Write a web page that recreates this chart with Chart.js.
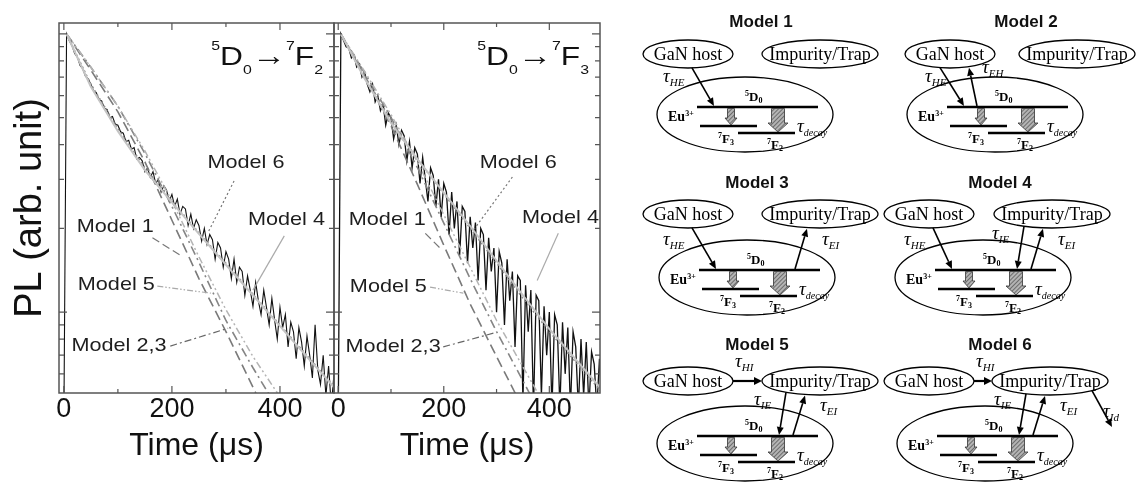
<!DOCTYPE html>
<html>
<head>
<meta charset="utf-8">
<script src="https://cdn.jsdelivr.net/npm/chart.js@4.4.0/dist/chart.umd.min.js"></script>
<style>
  html, body { margin: 0; padding: 0; background: #fff; }
  #wrap { position: relative; width: 1143px; height: 495px; overflow: hidden; }
  #cL { position: absolute; left: 0; top: 0; }
  #cR { position: absolute; left: 300px; top: 0; }
  #diag { position: absolute; left: 0; top: 0; }
</style>
</head>
<body>
<div id="wrap">
  <canvas id="cL" width="340" height="495"></canvas>
  <canvas id="cR" width="310" height="495"></canvas>
  <svg id="diag" width="1143" height="495" xmlns="http://www.w3.org/2000/svg"></svg>
</div>
<script>
// ---------- data ----------
const dataTime = [0,5,10,15,20,25,30,35,40,45,50,55,60,65,70,75,80,85,90,95,100,105,110,115,120,125,130,135,140,145,150,155,160,165,170,175,180,185,190,195,200,205,210,215,220,225,230,235,240,245,250,255,260,265,270,275,280,285,290,295,300,305,310,315,320,325,330,335,340,345,350,355,360,365,370,375,380,385,390,395,400,405,410,415,420,425,430,435,440,445,450,455,460,465,470,475,480,485,490,495,500];

// measured PL, 5D0 -> 7F2
const pl_7F2 = [0.04, 1.00, 0.945, 0.91, 0.85, 0.825, 0.77, 0.75, 0.705, 0.69, 0.66,
  0.625, 0.615, 0.58, 0.575, 0.54, 0.535, 0.50, 0.505, 0.475, 0.47,
  0.445, 0.44, 0.41, 0.415, 0.385, 0.39, 0.355, 0.36, 0.35, 0.32,
  0.33, 0.305, 0.32, 0.29, 0.30, 0.27, 0.285, 0.275, 0.25, 0.265,
  0.24, 0.255, 0.225, 0.24, 0.235, 0.205, 0.225, 0.20, 0.215, 0.205,
  0.18, 0.20, 0.175, 0.19, 0.182, 0.155, 0.178, 0.17, 0.145, 0.165,
  0.155, 0.132, 0.155, 0.128, 0.145, 0.14, 0.115, 0.135, 0.12, 0.105,
  0.128, 0.11, 0.098, 0.12, 0.104, 0.09, 0.112, 0.094, 0.08, 0.104,
  0.088, 0.098, 0.075, 0.092, 0.085, 0.068, 0.088, 0.078, 0.064, 0.082,
  0.07, 0.058, 0.09, 0.062, 0.055, 0.07, 0.05, 0.064, 0.046, 0.06];

// measured PL, 5D0 -> 7F3 (noisier)
const pl_7F3 = [0.04, 1.0, 0.95, 0.90, 0.89, 0.82, 0.84, 0.76, 0.78, 0.70, 0.73,
  0.66, 0.62, 0.66, 0.57, 0.60, 0.53, 0.56, 0.47, 0.52, 0.50,
  0.42, 0.47, 0.40, 0.45, 0.43, 0.35, 0.41, 0.33, 0.39, 0.37,
  0.29, 0.36, 0.30, 0.25, 0.33, 0.31, 0.24, 0.30, 0.22, 0.29,
  0.27, 0.19, 0.27, 0.20, 0.25, 0.16, 0.24, 0.23, 0.15, 0.22,
  0.17, 0.21, 0.13, 0.20, 0.19, 0.12, 0.185, 0.14, 0.17, 0.10,
  0.165, 0.15, 0.09, 0.155, 0.11, 0.14, 0.075, 0.135, 0.13, 0.048,
  0.125, 0.085, 0.12, 0.045, 0.115, 0.11, 0.05, 0.105, 0.07, 0.10,
  0.045, 0.098, 0.09, 0.045, 0.092, 0.06, 0.088, 0.045, 0.085, 0.075,
  0.045, 0.08, 0.05, 0.078, 0.045, 0.072, 0.065, 0.045, 0.068, 0.045];

// model curves
const modelTime = [5,50,100,150,200,250,300,350,400,450,500];
const model4_7F2 = [1,0.646,0.447,0.324,0.248,0.191,0.148,0.115,0.089,0.069,0.0537];
const model6_7F2 = [1,0.661,0.457,0.331,0.251,0.193,0.150,0.116,0.090,0.070,0.0543];
const model4_7F3 = [1,0.692,0.479,0.355,0.269,0.204,0.153,0.115,0.0871,0.0676,0.0525];
const model6_7F3 = [1,0.708,0.490,0.355,0.266,0.200,0.150,0.112,0.0851,0.0661,0.0513];

const m1Time_7F2 = [5,50,100,150,200,250,300,355,400];
const model1_7F2 = [1,0.741,0.525,0.347,0.214,0.132,0.0851,0.0513,0.0339];
const m23Time_7F2 = [5,50,100,150,200,250,300,350,378,400];
const model23_7F2 = [1,0.759,0.550,0.372,0.240,0.151,0.0933,0.0631,0.0513,0.0437];
const m5Time_7F2 = [5,50,100,150,200,250,300,350,395,420];
const model5_7F2 = [1,0.759,0.550,0.380,0.251,0.158,0.102,0.0692,0.0513,0.0427];

const m1Time_7F3 = [5,50,100,150,200,250,300,335,360];
const model1_7F3 = [1,0.708,0.468,0.288,0.174,0.107,0.0692,0.0513,0.0417];
const m23Time_7F3 = [5,50,100,150,200,250,300,362,390];
const model23_7F3 = [1,0.724,0.501,0.331,0.209,0.132,0.0851,0.0513,0.0417];
const m5Time_7F3 = [5,50,100,150,200,250,300,378,400];
const model5_7F3 = [1,0.733,0.513,0.347,0.224,0.145,0.0933,0.0513,0.0437];

// axes
const xLabelTicks = [0, 200, 400];
const xMajorTicks = [0, 200, 400];
const xMinorTicks = [100, 300, 500];
const yMajorTicks = [1, 0.1];
const yMinorTicks = [0.9, 0.8, 0.7, 0.6, 0.5, 0.4, 0.3, 0.2, 0.09, 0.08, 0.07, 0.06];

// diagram content
const modelTitles = ['Model 1', 'Model 2', 'Model 3', 'Model 4', 'Model 5', 'Model 6'];
const modelPaths = [['HE'], ['HE', 'EH'], ['HE', 'EI'], ['HE', 'IE', 'EI'], ['HI', 'IE', 'EI'], ['HI', 'IE', 'EI', 'Id']];

const SANS = '"Liberation Sans", Arial, "DejaVu Sans", sans-serif';
const SERIF = 'Liberation Serif, DejaVu Serif, serif';

Chart.defaults.font.family = SANS;
Chart.defaults.color = '#111';

// ---------- chart panels ----------
function stretchText(ctx, text, x, y, sx) {
  ctx.save();
  ctx.translate(x, y);
  ctx.scale(sx, 1);
  ctx.fillText(text, 0, 0);
  ctx.restore();
}

function drawFormula(ctx, right, base, sub) {
  const parts = [['5', 13, -15], ['D', 26, 0], ['0', 13, 9], ['\u2192', 28, 0], ['7', 13, -15], ['F', 26, 0], [sub, 13, 9]];
  const sx = 1.22;
  const widths = parts.map(([t, f]) => { ctx.font = f + 'px ' + SANS; return ctx.measureText(t).width * sx; });
  let xx = right - widths.reduce((a, b) => a + b, 0);
  ctx.textAlign = 'left';
  ctx.textBaseline = 'alphabetic';
  ctx.fillStyle = '#111';
  parts.forEach(([t, f, dy], i) => {
    ctx.font = f + 'px ' + SANS;
    stretchText(ctx, t, xx, base + dy, sx);
    xx += widths[i];
  });
}

function panelPlugin(p) {
  return {
    id: 'panel' + p.sub,
    afterDatasetsDraw(chart) {
      const { ctx, chartArea: a, scales: { x, y } } = chart;
      ctx.save();

      // model labels with leader lines
      p.notes.forEach(n => {
        ctx.beginPath();
        ctx.setLineDash(n.dash);
        ctx.strokeStyle = n.color;
        ctx.lineWidth = 1.2;
        ctx.moveTo(x.getPixelForValue(n.from[0]), y.getPixelForValue(n.from[1]));
        ctx.lineTo(x.getPixelForValue(n.to[0]), y.getPixelForValue(n.to[1]));
        ctx.stroke();
        ctx.setLineDash([]);
        ctx.fillStyle = '#1e1e1e';
        ctx.font = '19px ' + SANS;
        ctx.textAlign = 'center';
        ctx.textBaseline = 'middle';
        stretchText(ctx, n.text, x.getPixelForValue(n.at[0]), y.getPixelForValue(n.at[1]), 1.14);
      });

      // frame + inward ticks
      ctx.strokeStyle = '#555';
      ctx.lineWidth = 1.5;
      ctx.strokeRect(a.left, a.top, a.right - a.left, a.bottom - a.top);
      ctx.lineWidth = 1.2;
      ctx.beginPath();
      const xt = (v, len) => {
        if (v <= x.min || v >= x.max) return;
        const px = x.getPixelForValue(v);
        ctx.moveTo(px, a.bottom); ctx.lineTo(px, a.bottom - len);
        ctx.moveTo(px, a.top); ctx.lineTo(px, a.top + len);
      };
      const yt = (v, len) => {
        const py = y.getPixelForValue(v);
        ctx.moveTo(a.left, py); ctx.lineTo(a.left + len, py);
        ctx.moveTo(a.right, py); ctx.lineTo(a.right - len, py);
      };
      xMajorTicks.forEach(v => xt(v, 7));
      xMinorTicks.forEach(v => xt(v, 4));
      yMajorTicks.forEach(v => yt(v, 8));
      yMinorTicks.forEach(v => yt(v, 5));
      ctx.stroke();

      drawFormula(ctx, a.right - 11, a.top + 42, p.sub);
      ctx.restore();
    }
  };
}

function buildPanel(canvasId, p) {
  const pts = (ts, vs) => ts.map((t, i) => ({ x: t, y: vs[i] }));
  const datasets = [
    { data: pts(modelTime, p.m4), borderColor: '#c4c4c4', borderWidth: 2 },
    { data: pts(modelTime, p.m6), borderColor: '#8c8c8c', borderWidth: 1.4, borderDash: [2, 2.5] },
    { data: pts(p.m5t, p.m5), borderColor: '#b4b4b4', borderWidth: 1.5, borderDash: [7, 3, 2, 3, 2, 3] },
    { data: pts(p.m23t, p.m23), borderColor: '#858585', borderWidth: 1.6, borderDash: [9, 4, 2, 4] },
    { data: pts(p.m1t, p.m1), borderColor: '#7a7a7a', borderWidth: 1.6, borderDash: [10, 5] },
    { data: pts(dataTime, p.pl), borderColor: '#111', borderWidth: p.dataWidth }
  ];

  return new Chart(document.getElementById(canvasId), {
    type: 'line',
    data: { datasets },
    options: {
      responsive: false,
      animation: false,
      events: [],
      layout: { padding: p.padding },
      elements: { point: { radius: 0 }, line: { tension: 0, fill: false } },
      plugins: { legend: { display: false }, tooltip: { enabled: false } },
      scales: {
        x: {
          type: 'linear', min: p.xmin, max: p.xmax,
          afterBuildTicks: s => { s.ticks = xLabelTicks.map(v => ({ value: v })); },
          afterFit: s => { s.height = 102; },
          ticks: { font: { size: 27 }, color: '#111', padding: 0, autoSkip: false, maxRotation: 0 },
          grid: { display: false, drawTicks: false },
          border: { display: false },
          title: { display: true, text: 'Time (\u03bcs)', font: { size: 32 }, color: '#111', padding: { top: 0, bottom: 30 } }
        },
        y: {
          type: 'logarithmic', min: 0.0512, max: 1.095,
          display: p.showY,
          afterBuildTicks: s => { s.ticks = yMajorTicks.map(v => ({ value: v })); },
          afterFit: s => { s.width = p.showY ? 59 : 0; },
          ticks: { display: false },
          grid: { display: false, drawTicks: false },
          border: { display: false },
          title: { display: true, text: 'PL (arb. unit)', font: { size: 38 }, color: '#111', padding: { top: 8, bottom: 0 } }
        }
      }
    },
    plugins: [panelPlugin(p)]
  });
}

const dashM1 = [8, 4], dashM23 = [7, 3, 2, 3], dashM5 = [6, 2, 1.5, 2, 1.5, 2], dashM6 = [2, 2.5];

buildPanel('cL', {
  sub: '2', showY: true, xmin: -9, xmax: 500, padding: { top: 23, right: 6, left: 0, bottom: 0 }, dataWidth: 1.1,
  pl: pl_7F2, m4: model4_7F2, m6: model6_7F2,
  m1t: m1Time_7F2, m1: model1_7F2, m23t: m23Time_7F2, m23: model23_7F2, m5t: m5Time_7F2, m5: model5_7F2,
  notes: [
    { text: 'Model 6', at: [337, 0.343], from: [315, 0.296], to: [266, 0.192], dash: dashM6, color: '#777' },
    { text: 'Model 1', at: [95, 0.202], from: [164, 0.185], to: [220, 0.158], dash: dashM1, color: '#777' },
    { text: 'Model 4', at: [412, 0.214], from: [408, 0.188], to: [350, 0.12], dash: [], color: '#aaa' },
    { text: 'Model 5', at: [97, 0.125], from: [173, 0.124], to: [272, 0.117], dash: dashM5, color: '#aaa' },
    { text: 'Model 2,3', at: [102, 0.076], from: [197, 0.0755], to: [304, 0.0875], dash: dashM23, color: '#666' }
  ]
});

buildPanel('cR', {
  sub: '3', showY: false, xmin: -8, xmax: 496, padding: { top: 23, right: 10, left: 34, bottom: 0 }, dataWidth: 1.3,
  pl: pl_7F3, m4: model4_7F3, m6: model6_7F3,
  m1t: m1Time_7F3, m1: model1_7F3, m23t: m23Time_7F3, m23: model23_7F3, m5t: m5Time_7F3, m5: model5_7F3,
  notes: [
    { text: 'Model 6', at: [341, 0.343], from: [330, 0.306], to: [256, 0.197], dash: dashM6, color: '#777' },
    { text: 'Model 1', at: [93, 0.214], from: [165, 0.192], to: [197, 0.167], dash: dashM1, color: '#777' },
    { text: 'Model 4', at: [421, 0.218], from: [417, 0.192], to: [377, 0.130], dash: [], color: '#aaa' },
    { text: 'Model 5', at: [95, 0.123], from: [174, 0.123], to: [237, 0.117], dash: dashM5, color: '#aaa' },
    { text: 'Model 2,3', at: [104, 0.075], from: [199, 0.075], to: [294, 0.084], dash: dashM23, color: '#666' }
  ]
});

// ---------- energy-transfer diagrams ----------
// per-model offsets from the Model 1 layout
const gX = [0, 262, 0, 241, 0, 241];
const iX = [0, 257, 0, 232, 0, 230];
const eX = [0, 250, 2, 238, 0, 240];
const topY = [0, 0, 160, 160, 327, 327];
const euY = [0, 0, 163, 163, 329, 329];
const titlePos = [[761, 27], [1026, 27], [757, 188], [1000, 188], [757, 350], [1000, 350]];

function ellY(e, x, sign) {
  const k = (x - e.cx) / e.rx;
  return e.cy + sign * e.ry * Math.sqrt(Math.max(0, 1 - k * k));
}

function arrow(x1, y1, x2, y2, w, hl, hw) {
  const dx = x2 - x1, dy = y2 - y1, L = Math.hypot(dx, dy), ux = dx / L, uy = dy / L;
  const bx = x2 - ux * hl, by = y2 - uy * hl;
  return `<line x1="${x1}" y1="${y1}" x2="${bx}" y2="${by}" stroke="#000" stroke-width="${w}"/>` +
    `<polygon points="${x2},${y2} ${bx - uy * hw},${by + ux * hw} ${bx + uy * hw},${by - ux * hw}" fill="#000"/>`;
}

function blockArrow(x, y1, y2, w, hw, hl) {
  const pts = [[x - w, y1], [x + w, y1], [x + w, y2 - hl], [x + hw, y2 - hl], [x, y2], [x - hw, y2 - hl], [x - w, y2 - hl]];
  return `<polygon points="${pts.map(p => p.join(',')).join(' ')}" fill="url(#hatch)" stroke="#333" stroke-width="0.8"/>`;
}

function tau(x, y, sub, subSize) {
  return `<text x="${x}" y="${y}" font-family="${SERIF}" font-style="italic" fill="#000">` +
    `<tspan font-size="19">\u03c4</tspan><tspan font-size="${subSize || 11}" dy="4">${sub}</tspan></text>`;
}

function level(x, y, sup, main, sub) {
  return `<text x="${x}" y="${y}" font-family="${SERIF}" font-weight="bold" fill="#000">` +
    `<tspan font-size="8" dy="-5">${sup}</tspan><tspan font-size="13" dy="5">${main}</tspan><tspan font-size="8" dy="2">${sub}</tspan></text>`;
}

function drawDiagrams() {
  let s = `<defs><pattern id="hatch" patternUnits="userSpaceOnUse" width="3" height="3" patternTransform="rotate(45)">` +
    `<rect width="3" height="3" fill="#b4b4b4"/><line x1="0" y1="0" x2="0" y2="3" stroke="#444" stroke-width="1.3"/></pattern></defs>`;

  modelTitles.forEach((name, i) => {
    const ty = topY[i], ey = euY[i], ex = eX[i];
    const G = { cx: 688 + gX[i], cy: 54 + ty, rx: 45, ry: 14 };
    const I = { cx: 820 + iX[i], cy: 54 + ty, rx: 58, ry: 14 };
    const E = { cx: 745 + ex, cy: 114.5 + ey, rx: 88, ry: 37.5 };
    const y5 = 107 + ey, x5a = 697 + ex, x5b = 818 + ex;
    const hA = 731 + ex, hB = 778 + ex;
    const tauY = ey + 82;

    s += `<text x="${titlePos[i][0]}" y="${titlePos[i][1]}" text-anchor="middle" font-family='${SANS}' font-weight="bold" font-size="17" fill="#111">${name}</text>`;

    s += `<ellipse cx="${G.cx}" cy="${G.cy}" rx="${G.rx}" ry="${G.ry}" fill="#fff" stroke="#000" stroke-width="1.3"/>`;
    s += `<text x="${G.cx}" y="${G.cy + 6}" text-anchor="middle" font-family="${SERIF}" font-size="18" fill="#000">GaN host</text>`;
    s += `<ellipse cx="${I.cx}" cy="${I.cy}" rx="${I.rx}" ry="${I.ry}" fill="#fff" stroke="#000" stroke-width="1.3"/>`;
    s += `<text x="${I.cx}" y="${I.cy + 6}" text-anchor="middle" font-family="${SERIF}" font-size="18" fill="#000">Impurity/Trap</text>`;
    s += `<ellipse cx="${E.cx}" cy="${E.cy}" rx="${E.rx}" ry="${E.ry}" fill="none" stroke="#000" stroke-width="1.3"/>`;

    // Eu levels
    s += `<line x1="${x5a}" y1="${y5}" x2="${x5b}" y2="${y5}" stroke="#000" stroke-width="2.5"/>`;
    s += `<line x1="${700 + ex}" y1="${126 + ey}" x2="${757 + ex}" y2="${126 + ey}" stroke="#000" stroke-width="2.5"/>`;
    s += `<line x1="${738 + ex}" y1="${133 + ey}" x2="${795 + ex}" y2="${133 + ey}" stroke="#000" stroke-width="2.5"/>`;
    s += blockArrow(hA, y5 + 1.5, 125 + ey, 3.5, 6, 7);
    s += blockArrow(hB, y5 + 1.5, 132 + ey, 6.5, 10, 9);

    s += `<text x="${668 + ex}" y="${121 + ey}" font-family="${SERIF}" font-weight="bold" fill="#000"><tspan font-size="14">Eu</tspan><tspan font-size="8" dy="-5">3+</tspan></text>`;
    s += level(745 + ex, 101 + ey, '5', 'D', '0');
    s += level(718 + ex, 143 + ey, '7', 'F', '3');
    s += level(767 + ex, 149 + ey, '7', 'F', '2');
    s += tau(797 + ex, 132 + ey, 'decay', 10);

    // transfer paths
    modelPaths[i].forEach(path => {
      if (path === 'HE') {
        const sx = G.cx + (i === 1 ? -10 : 4);
        s += arrow(sx, ellY(G, sx, 1), x5a + 17, y5 - 1, 1.6, 8, 3.5);
        s += tau(G.cx - 25, tauY, 'HE');
      } else if (path === 'EH') {
        const tx = G.cx + 19;
        s += arrow(x5a + 30, y5 - 1, tx, ellY(G, tx, 1) + 1, 1.6, 8, 3.5);
        s += tau(x5a + 35, 73 + ey, 'EH');
      } else if (path === 'EI') {
        const tx = hB + 27;
        s += arrow(hB + 15, y5 - 1, tx, ellY(I, tx, 1) + 1, 1.6, 8, 3.5);
        s += tau(tx + 15, tauY, 'EI');
      } else if (path === 'IE') {
        const tx = hB + 8;
        s += arrow(tx, ellY(I, tx, 1), hB + 1, y5 - 1, 1.6, 8, 3.5);
        s += tau(tx - 32, tauY - 6, 'IE');
      } else if (path === 'HI') {
        s += arrow(G.cx + G.rx, G.cy, I.cx - I.rx, I.cy, 2.2, 8, 4);
        s += tau(G.cx + G.rx + 2, G.cy - 14, 'HI');
      } else if (path === 'Id') {
        const sx = I.cx + 42;
        s += arrow(sx, ellY(I, sx, 1), I.cx + 62, I.cy + 46, 1.6, 8, 3.5);
        s += tau(I.cx + 53, I.cy + 36, 'Id');
      }
    });
  });
  document.getElementById('diag').innerHTML = s;
}

drawDiagrams();
</script>
</body>
</html>
